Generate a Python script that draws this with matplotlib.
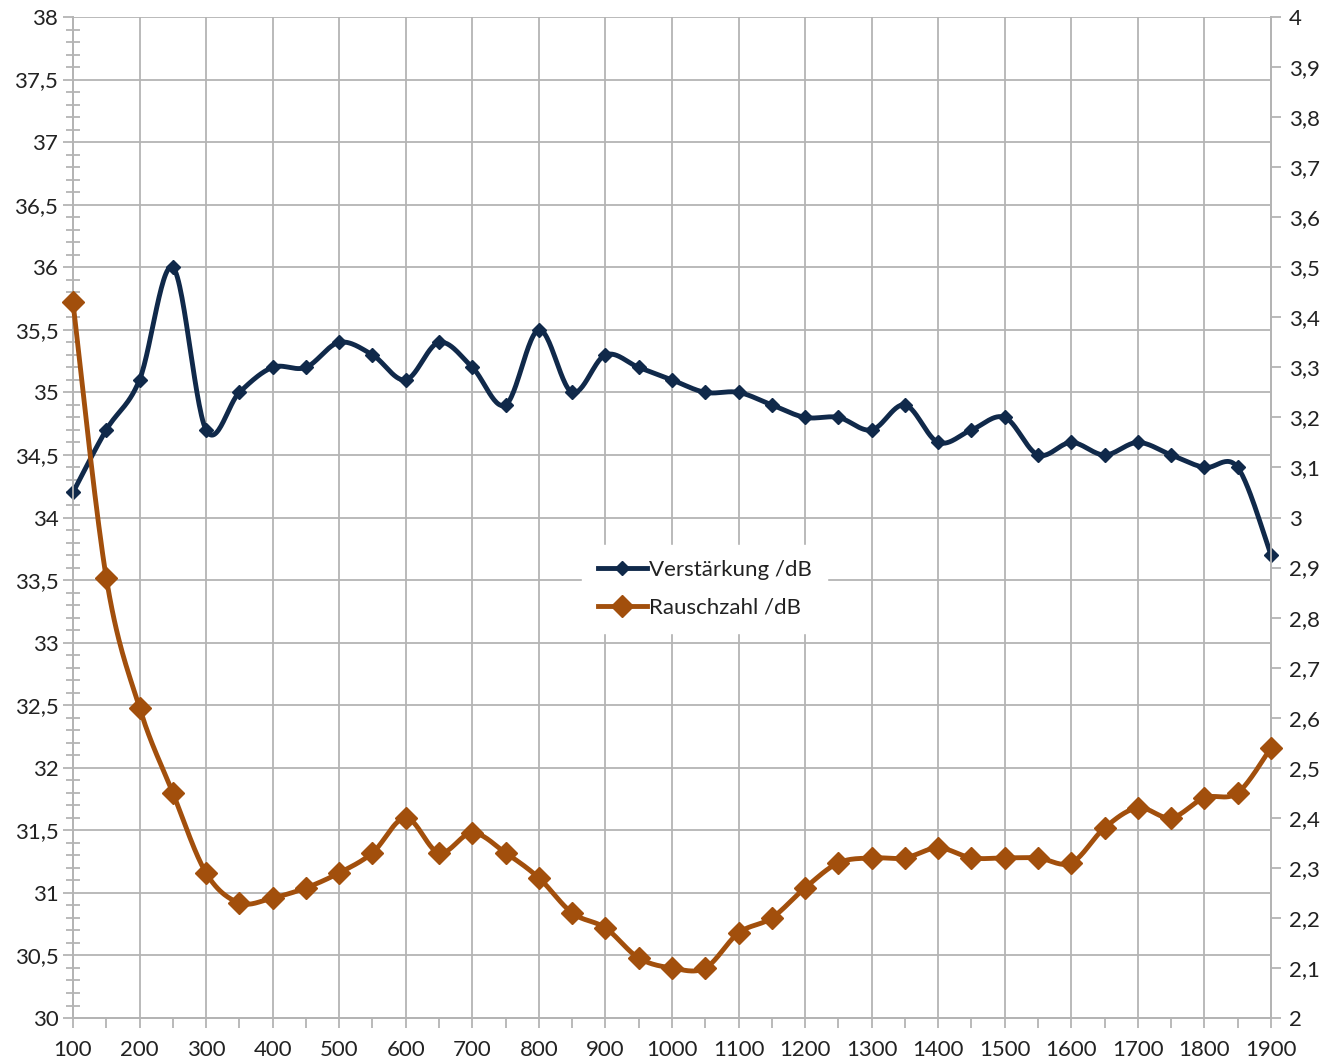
import numpy as np
import matplotlib
matplotlib.use("Agg")
import matplotlib.pyplot as plt
from matplotlib.lines import Line2D
from matplotlib.ticker import MultipleLocator, FuncFormatter

freq = list(range(100, 1901, 50))
gain = [34.2, 34.7, 35.1, 36.0, 34.7, 35.0, 35.2, 35.2, 35.4, 35.3,
        35.1, 35.4, 35.2, 34.9, 35.5, 35.0, 35.3, 35.2, 35.1, 35.0,
        35.0, 34.9, 34.8, 34.8, 34.7, 34.9, 34.6, 34.7, 34.8, 34.5,
        34.6, 34.5, 34.6, 34.5, 34.4, 34.4, 33.7]
noise = [3.43, 2.88, 2.62, 2.45, 2.29, 2.23, 2.24, 2.26, 2.29, 2.33,
         2.40, 2.33, 2.37, 2.33, 2.28, 2.21, 2.18, 2.12, 2.10, 2.10,
         2.17, 2.20, 2.26, 2.31, 2.32, 2.32, 2.34, 2.32, 2.32, 2.32,
         2.31, 2.38, 2.42, 2.40, 2.44, 2.45, 2.54]

navy = "#10294a"
brown = "#a24f0c"
grid_c = "#b4b4b4"


def smooth(x, y, n=30):
    # excel-style smoothed line (catmull-rom as bezier)
    p = np.column_stack([x, y]).astype(float)
    p = np.vstack([p[0], p, p[-1]])
    t = np.linspace(0, 1, n)[:, None]
    out = []
    for i in range(1, len(p) - 2):
        p0, p1, p2, p3 = p[i - 1], p[i], p[i + 1], p[i + 2]
        c1 = p1 + (p2 - p0) / 6
        c2 = p2 - (p3 - p1) / 6
        seg = ((1 - t) ** 3) * p1 + 3 * ((1 - t) ** 2) * t * c1 \
            + 3 * (1 - t) * t ** 2 * c2 + t ** 3 * p2
        out.append(seg if i == 1 else seg[1:])
    out = np.vstack(out)
    return out[:, 0], out[:, 1]


def comma(v, pos):
    return f"{v:g}".replace(".", ",")


plt.rcParams['font.family'] = ['Lato', 'DejaVu Sans']
fig = plt.figure(figsize=(13.41, 10.63), dpi=100)
ax = fig.add_axes([0.0544, 0.0423, 0.8934, 0.9417])
ax2 = ax.twinx()

ax.set_xlim(100, 1900)
ax.set_ylim(30, 38)
ax2.set_ylim(2, 4)

ax.xaxis.set_major_locator(MultipleLocator(100))
ax.xaxis.set_minor_locator(MultipleLocator(50))
ax.yaxis.set_major_locator(MultipleLocator(0.5))
ax.yaxis.set_minor_locator(MultipleLocator(0.1))
ax2.yaxis.set_major_locator(MultipleLocator(0.1))
ax.yaxis.set_major_formatter(FuncFormatter(comma))
ax2.yaxis.set_major_formatter(FuncFormatter(comma))

ax.grid(True, which="major", color=grid_c, lw=1.3)
ax.set_axisbelow(True)
for a in (ax, ax2):
    for s in a.spines.values():
        s.set_color(grid_c)
        s.set_linewidth(1.3)
ax.spines["top"].set_visible(False)
ax2.spines["top"].set_visible(False)

ax.tick_params(axis="both", which="major", length=7, width=1.3, color=grid_c,
               labelsize=16, labelcolor="#222222")
ax.tick_params(axis="y", which="minor", direction="inout", length=10, width=1.3, color=grid_c)
ax.tick_params(axis="x", which="minor", direction="out", length=7, width=1.3, color=grid_c)
ax.tick_params(axis="x", which="major", pad=9)
ax2.tick_params(axis="y", which="major", length=7, width=1.3, color=grid_c,
                labelsize=16, labelcolor="#222222", pad=6)

sx, sy = smooth(freq, gain)
ax.plot(sx, sy, color=navy, lw=3.5, solid_capstyle="round", zorder=3, clip_on=False)
ax.plot(freq, gain, ls="none", marker="D", ms=7, color=navy, zorder=4, clip_on=False)

sx, sy = smooth(freq, noise)
ax2.plot(sx, sy, color=brown, lw=3.5, solid_capstyle="round", zorder=3, clip_on=False)
ax2.plot(freq, noise, ls="none", marker="D", ms=11, color=brown, zorder=4, clip_on=False)

handles = [Line2D([], [], color=navy, lw=3.5, marker="D", ms=7),
           Line2D([], [], color=brown, lw=3.5, marker="D", ms=11)]
leg = ax2.legend(handles, ["Verstärkung /dB", "Rauschzahl /dB"],
                 loc="center", bbox_to_anchor=(0.5275, 0.4286), frameon=True,
                 fontsize=16, handlelength=2.2, handletextpad=0.1,
                 labelspacing=0.8, borderpad=0.7, fancybox=False)
leg.get_frame().set_edgecolor("white")
leg.get_frame().set_facecolor("white")
leg.get_frame().set_alpha(1)
for t in leg.get_texts():
    t.set_color("#222222")

fig.savefig("out.png", dpi=100)
